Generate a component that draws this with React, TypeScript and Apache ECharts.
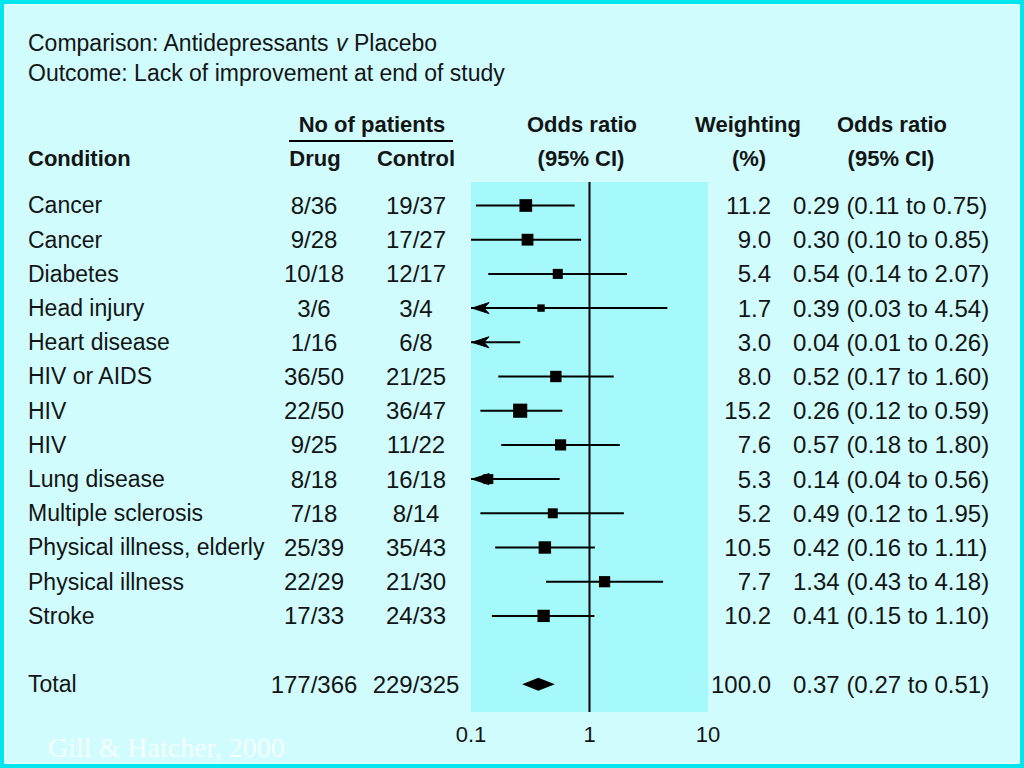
import React, { useEffect, useRef } from "react";
import * as echarts from "echarts";

// ---------- data ----------
const conditions = [
  "Cancer", "Cancer", "Diabetes", "Head injury", "Heart disease", "HIV or AIDS", "HIV", "HIV",
  "Lung disease", "Multiple sclerosis", "Physical illness, elderly", "Physical illness", "Stroke",
];
const drugPatients = ["8/36", "9/28", "10/18", "3/6", "1/16", "36/50", "22/50", "9/25", "8/18", "7/18", "25/39", "22/29", "17/33"];
const controlPatients = ["19/37", "17/27", "12/17", "3/4", "6/8", "21/25", "36/47", "11/22", "16/18", "8/14", "35/43", "21/30", "24/33"];
const weighting = [11.2, 9.0, 5.4, 1.7, 3.0, 8.0, 15.2, 7.6, 5.3, 5.2, 10.5, 7.7, 10.2];
const oddsRatio = [0.29, 0.30, 0.54, 0.39, 0.04, 0.52, 0.26, 0.57, 0.14, 0.49, 0.42, 1.34, 0.41];
const ciLow = [0.11, 0.10, 0.14, 0.03, 0.01, 0.17, 0.12, 0.18, 0.04, 0.12, 0.16, 0.43, 0.15];
const ciHigh = [0.75, 0.85, 2.07, 4.54, 0.26, 1.60, 0.59, 1.80, 0.56, 1.95, 1.11, 4.18, 1.10];

const totalLabel = "Total";
const totalDrug = "177/366";
const totalControl = "229/325";
const totalWeighting = 100.0;
const totalOR = 0.37;
const totalLow = 0.27;
const totalHigh = 0.51;

const xMinValue = 0.1;
const xMaxValue = 10;
const xTickLabels = ["0.1", "1", "10"];

// ---------- layout / style ----------
const SANS = "'Liberation Sans', Arial, Helvetica, sans-serif";
const TXT = "#141414";
const Y_MIN = -0.687;
const Y_MAX = 14.81;
const totalRow = conditions.length + 1;

const fmtOR = (o: number, l: number, h: number) => `${o.toFixed(2)} (${l.toFixed(2)} to ${h.toFixed(2)})`;

type Row = { name: string; drug: string; control: string; w: number; or: number; lo: number; hi: number; row: number };
const rows: Row[] = conditions.map((name, i) => ({
  name, drug: drugPatients[i], control: controlPatients[i], w: weighting[i],
  or: oddsRatio[i], lo: ciLow[i], hi: ciHigh[i], row: i,
}));
const allRows: Row[] = [
  ...rows,
  { name: totalLabel, drug: totalDrug, control: totalControl, w: totalWeighting, or: totalOR, lo: totalLow, hi: totalHigh, row: totalRow },
];

function txt(text: string, x: number, y: number, size: number, align: string, weight = "normal", family = SANS, fill = TXT) {
  return {
    type: "text",
    x, y,
    style: {
      text,
      fill,
      font: `${weight} ${size}px ${family}`,
      align, textAlign: align,
      verticalAlign: "middle", textVerticalAlign: "middle",
    },
  };
}

export default function App() {
  const ref = useRef<HTMLDivElement>(null);
  useEffect(() => {
    if (!ref.current) return;
    const chart = echarts.init(ref.current, undefined, { renderer: "svg" });

    const option: any = {
      animation: false,
      backgroundColor: "#d0fcfd",
      grid: {
        left: 471, right: 316, top: 182, bottom: 56,
        show: true, backgroundColor: "#a6f9fb", borderWidth: 0,
      },
      xAxis: {
        type: "log", logBase: 10, min: xMinValue, max: xMaxValue,
        axisLine: { show: false }, axisTick: { show: false }, splitLine: { show: false },
        axisLabel: {
          fontSize: 22, color: TXT, margin: 11, fontFamily: SANS,
          formatter: (v: number) => {
            const idx = Math.round(Math.log10(v) - Math.log10(xMinValue));
            return xTickLabels[idx] ?? String(+v.toPrecision(3));
          },
        },
      },
      yAxis: { type: "value", inverse: true, min: Y_MIN, max: Y_MAX, show: false },
      series: [
        {
          type: "line",
          data: [[1, Y_MIN], [1, Y_MAX]],
          symbol: "none",
          lineStyle: { color: "#000", width: 2 },
          silent: true,
          z: 2,
        },
        {
          // study estimates with CI
          type: "custom",
          clip: false,
          z: 3,
          data: rows.map((r) => [r.or, r.row, r.lo, r.hi, r.w]),
          encode: { x: 0, y: 1 },
          renderItem: (params: any, api: any) => {
            const or = api.value(0), row = api.value(1), lo = api.value(2), hi = api.value(3), w = api.value(4);
            const a = api.coord([Math.max(lo, xMinValue), row]);
            const b = api.coord([Math.min(hi, xMaxValue), row]);
            const children: any[] = [
              { type: "line", shape: { x1: a[0], y1: a[1], x2: b[0], y2: b[1] }, style: { stroke: "#000", lineWidth: 2 } },
            ];
            if (or >= xMinValue) {
              const c = api.coord([or, row]);
              const s = 4 + 2.6 * Math.sqrt(w);
              children.push({ type: "rect", shape: { x: c[0] - s / 2, y: c[1] - s / 2, width: s, height: s }, style: { fill: "#000" } });
            }
            if (lo < xMinValue) {
              const x0 = a[0] + 1, y0 = a[1];
              children.push({
                type: "polygon",
                shape: { points: [[x0, y0], [x0 + 17, y0 - 5.5], [x0 + 12, y0], [x0 + 17, y0 + 5.5]] },
                style: { fill: "#000", stroke: "#000", lineWidth: 1 },
              });
            }
            return { type: "group", children };
          },
        },
        {
          // pooled diamond
          type: "custom",
          clip: false,
          z: 3,
          data: [[totalOR, totalRow, totalLow, totalHigh]],
          encode: { x: 0, y: 1 },
          renderItem: (params: any, api: any) => {
            const row = api.value(1);
            const c = api.coord([api.value(0), row]);
            const l = api.coord([api.value(2), row]);
            const h = api.coord([api.value(3), row]);
            return {
              type: "polygon",
              shape: { points: [[l[0], l[1]], [c[0], c[1] - 6.5], [h[0], h[1]], [c[0], c[1] + 6.5]] },
              style: { fill: "#000" },
            };
          },
        },
        {
          // table text
          type: "custom",
          clip: false,
          z: 4,
          data: allRows.map((r) => [1, r.row]),
          encode: { x: 0, y: 1 },
          renderItem: (params: any, api: any) => {
            const r = allRows[params.dataIndex];
            const y = api.coord([1, api.value(1)])[1];
            return {
              type: "group",
              children: [
                txt(r.name, 28, y, 23, "left"),
                txt(r.drug, 314, y, 24, "center"),
                txt(r.control, 416, y, 24, "center"),
                txt(r.w.toFixed(1), 771, y, 24, "right"),
                txt(fmtOR(r.or, r.lo, r.hi), 793, y, 24, "left"),
              ],
            };
          },
        },
      ],
      graphic: [
        {
          type: "rect",
          shape: { x: 2, y: 2, width: 1020, height: 764 },
          style: { fill: "none", stroke: "#00e6ef", lineWidth: 4 },
          z: 100,
        },
        {
          type: "rect",
          shape: { x: 5, y: 5, width: 1014, height: 758 },
          style: { fill: "none", stroke: "#e4ffff", lineWidth: 1.5 },
          z: 100,
        },
        {
          type: "text",
          x: 28, y: 43,
          style: {
            text: "{a|Comparison: Antidepressants }{i|v}{a| Placebo}",
            fill: TXT,
            font: `normal 23px ${SANS}`,
            verticalAlign: "middle", textVerticalAlign: "middle",
            rich: {
              a: { fontSize: 23, fontFamily: SANS, fill: TXT, color: TXT },
              i: { fontSize: 23, fontFamily: SANS, fontStyle: "italic", fill: TXT, color: TXT },
            },
          },
        },
        txt("Outcome: Lack of improvement at end of study", 28, 73, 23, "left"),
        txt("No of patients", 372, 124, 22, "center", "bold"),
        { type: "line", shape: { x1: 289, y1: 141, x2: 453, y2: 141 }, style: { stroke: "#000", lineWidth: 2 } },
        txt("Condition", 28, 158, 22, "left", "bold"),
        txt("Drug", 315, 158, 22, "center", "bold"),
        txt("Control", 416, 158, 22, "center", "bold"),
        txt("Odds ratio", 582, 124, 22, "center", "bold"),
        txt("(95% CI)", 581, 158, 22, "center", "bold"),
        txt("Weighting", 748, 124, 22, "center", "bold"),
        txt("(%)", 749, 158, 22, "center", "bold"),
        txt("Odds ratio", 892, 124, 22, "center", "bold"),
        txt("(95% CI)", 891, 158, 22, "center", "bold"),
        txt("Gill & Hatcher, 2000", 48, 747, 28, "left", "normal", "'Liberation Serif', 'Times New Roman', serif", "#f6ffff"),
      ],
    };
    chart.setOption(option);
    return () => chart.dispose();
  }, []);
  return <div ref={ref} style={{ position: "fixed", left: 0, top: 0, width: 1024, height: 768 }} />;
}
